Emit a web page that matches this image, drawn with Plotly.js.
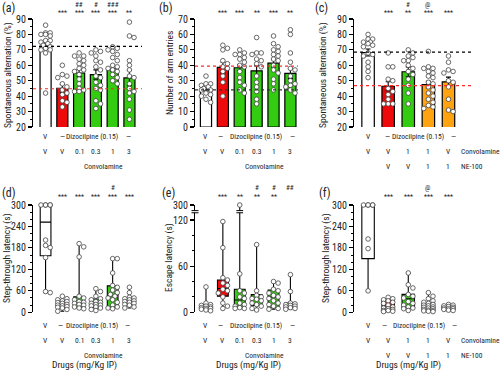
<!DOCTYPE html>
<html><head><meta charset="utf-8">
<script src="https://cdn.plot.ly/plotly-3.0.1.min.js"></script>
<style>body{margin:0;background:#fff}#chart{width:500px;height:375px}</style>
</head><body><div id="chart"></div>
<script>
// ---------------- DATA ----------------
// Panel (a) Spontaneous alternation (%) – groups: V/V, Dizo/V, Dizo+Conv 0.1, 0.3, 1, 3
const a_mean = [72.3, 45.0, 55.0, 54.0, 58.0, 51.8];
const a_sem  = [1.8, 2.6, 2.3, 3.0, 2.0, 5.0];
const a_pts = [
  [86,81,81,80,79,80,76,76,75,74,73,72,71,70,70,68,42],
  [60,54,53,52,48,46,44,42,41,37,36,33],
  [68,66,66,63,64,61,60,58,57,56,54,51,48,45,43,43,44],
  [70,69,68,66,62,63,59,57,53,52,49,47,45,44,37,35,32],
  [72,71,70,69,67,65,63,60,59,58,57,56,54,52,50,48],
  [88,79,78,63,60,57,53,52,48,45,43,42,38,31,25]
];
const a_refBlack = 72.3, a_refRed = 44.8;
// Panel (b) Number of arm entries
const b_mean = [24.0, 38.6, 38.4, 36.4, 41.4, 34.7];
const b_sem  = [1.2, 3.5, 2.0, 3.2, 2.5, 3.2];
const b_pts = [
  [33,28,28,27,26,25,24,24,22,21,20,18,16],
  [53,51,50,43,41,39,38,36,33,29,20],
  [50,48,47,47,45,44,42,40,39,36,32,29,27,24,22],
  [58,48,48,47,44,43,41,39,33,29,26,23,18,15],
  [59,54,52,50,49,47,46,44,43,40,37,35,31,28,24],
  [63,60,48,42,38,37,33,30,28,27,26,24,22]
];
const b_refBlack = 24.0, b_refRed = 39.5;
// Panel (c) Spontaneous alternation (%) – V/V, Dizo, Dizo+Conv1, Dizo+Conv1+NE1, Dizo+NE1
const c_mean = [68.3, 46.4, 55.8, 47.5, 49.3];
const c_sem  = [2.3, 2.9, 3.2, 2.2, 3.0];
const c_pts = [
  [80,77,77,75,75,74,73,72,68,67,66,62,59,56,52],
  [68,59,59,51,50,45,43,41,38,35,35,35],
  [70,68,65,66,63,63,60,58,56,54,51,47,42,35],
  [69,59,58,58,56,55,53,52,49,48,46,44,42,40,38,36,34,32,33],
  [66,62,57,56,55,50,49,46,38,31,30]
];
const c_refBlack = 68.5, c_refRed = 46.8;
// Panel (d) Step-through latency (s) – box stats (min, q1, median, q3, max)
const d_min = [55, 3, 10, 5, 10, 12];
const d_q1  = [158, 13, 14, 13, 14, 22];
const d_med = [252, 22, 25, 22, 46, 30];
const d_q3  = [300, 33, 43, 37, 74, 39];
const d_max = [300, 45, 192, 66, 150, 70];
const d_pts = [
  [300,300,300,300,300,202,187,181,153,58,55],
  [45,38,35,32,30,27,25,22,20,18,16,14,12,8,3],
  [192,183,155,45,40,35,30,28,25,22,20,15,12,10],
  [66,58,45,38,35,30,28,25,22,20,18,15,12,8,5],
  [150,150,110,75,70,62,55,50,45,40,35,28,20,15,12,10],
  [70,55,42,40,38,35,32,30,28,25,22,20,15,12]
];
// Panel (e) Escape latency (s) – broken axis (0–120 // 300)
const e_min = [2, 5, 5, 3, 4, 4];
const e_q1  = [4, 21, 6, 9, 6, 6];
const e_med = [6, 31, 16, 17, 20, 9];
const e_q3  = [10, 42, 30, 23, 29, 12];
const e_max = [33, 118, 300, 88, 40, 49];
const e_pts = [
  [33,12,10,9,8,7,6,5,5,4,3,2],
  [118,84,45,42,38,35,30,28,25,20,12,8,5],
  [300,50,28,25,20,18,12,10,8,6,5,5],
  [88,28,22,20,18,17,15,12,10,8,5,3],
  [40,38,30,28,25,22,20,18,15,12,10,8,5,4],
  [49,27,12,11,10,9,8,7,6,5,4]
];
// Panel (f) Step-through latency (s)
const f_min = [60, 2, 5, 2, 5];
const f_q1  = [150, 5, 12, 8, 8];
const f_med = [300, 18, 38, 15, 12];
const f_q3  = [300, 34, 50, 25, 18];
const f_max = [300, 42, 110, 55, 22];
const f_pts = [
  [300,300,300,300,300,205,178,60],
  [42,38,35,32,28,25,20,15,12,10,8,5,5,3,2],
  [110,77,68,50,45,40,30,25,20,15,12,10,5],
  [55,45,38,32,28,25,22,20,18,15,14,12,10,8,6,5,4,3,2],
  [22,20,18,16,14,12,10,10,8,6,5]
];
// Labels
const dizoRow = ['V', '—', 'Dizocilpine (0.15)', '—'];
const convDoses6 = ['V', 'V', '0.1', '0.3', '1', '3'];
const convDoses5 = ['V', 'V', '1', '1', 'V'];
const neDoses5 = ['V', 'V', '1', '1'];
const sig_a1 = ['', '***', '***', '***', '***', '**'], sig_a2 = ['', '', '##', '#', '###', ''];
const sig_b1 = ['', '***', '***', '**', '***', '**'],  sig_b2 = ['', '', '', '', '', ''];
const sig_c1 = ['', '***', '**', '***', '***'],        sig_c2 = ['', '', '#', '@', ''];
const sig_d1 = ['', '***', '***', '***', '***', '***'], sig_d2 = ['', '', '', '', '#', ''];
const sig_e1 = ['', '***', '**', '**', '**', ''],      sig_e2 = ['', '', '', '#', '#', '##'];
const sig_f1 = ['', '***', '***', '***', '***'],       sig_f2 = ['', '', '', '@', ''];

// ---------------- STYLE / GEOMETRY ----------------
const W = 500, H = 375;
const WHITE = '#ffffff', RED = '#ee0a0a', GREEN = '#33cc11', ORANGE = '#ffa311';
const col6 = [WHITE, RED, GREEN, GREEN, GREEN, GREEN];
const col5 = [WHITE, RED, GREEN, ORANGE, ORANGE];
const FONT = 'Liberation Sans Narrow, Roboto Condensed, DejaVu Sans Condensed, Open Sans, sans-serif';
const px = x => x / W, py = y => 1 - y / H;
const colL = [33, 142], colM = [195, 298], colR = [354, 472];
const rowT = [19, 127], rowB = [205, 312.3];
const xrL = [-0.75, 5.75], xrM = [-0.65, 5.45], xrR = [-0.7, 5.17];
const E_TOP = 139.5;                           // plotted position of 300 on the broken axis
function brk(v) { return v <= 125 ? v : E_TOP - (300 - v) * 0.35; }
const DIAM = 4.6;

function swarm(vals, ypu, xpu, maxHalf) {
  const placed = [], offs = new Array(vals.length);
  const order = vals.map((v, i) => i).sort((i, j) => vals[j] - vals[i]);
  const step = DIAM * 0.5, cands = [0];
  for (let k = 1; k * step <= maxHalf; k++) cands.push(k * step, -k * step);
  for (const i of order) {
    const y = vals[i] * ypu;
    let best = 0, bestScore = Infinity;
    for (const c of cands) {
      let s = 0;
      for (const p of placed) { const d = Math.hypot(c - p.x, y - p.y); if (d < DIAM) s += DIAM - d; }
      if (s < bestScore - 1e-9) { bestScore = s; best = c; }
      if (s === 0) break;
    }
    placed.push({x: best, y}); offs[i] = best / xpu;
  }
  return offs;
}

const traces = [];
function pointsTrace(groups, xa, ya, xd, xr, yd, yr, maxHalf, map) {
  const xpu = (xd[1] - xd[0]) / (xr[1] - xr[0]);
  const ypu = (yd[1] - yd[0]) / (yr[1] - yr[0]);
  const X = [], Y = [];
  groups.forEach((vals, i) => {
    const ys = vals.map(v => map ? map(v) : v);
    const off = swarm(ys, ypu, xpu, maxHalf);
    ys.forEach((y, k) => { X.push(i + off[k]); Y.push(y); });
  });
  traces.push({type: 'scatter', mode: 'markers', x: X, y: Y, xaxis: xa, yaxis: ya, cliponaxis: false,
    marker: {size: DIAM, color: '#fff', line: {color: '#444', width: 0.8}}, hoverinfo: 'skip'});
}
function barTrace(mean, sem, colors, xa, ya, width) {
  traces.push({type: 'bar', x: mean.map((m, i) => i), y: mean, xaxis: xa, yaxis: ya, width: width,
    marker: {color: colors, line: {color: '#000', width: 1.2}},
    error_y: {type: 'data', array: sem, visible: true, color: '#000', thickness: 1.1, width: 2.5},
    hoverinfo: 'skip'});
}
function boxTraces(mn, q1, md, q3, mx, colors, xa, ya, width, map) {
  const m = map || (v => v);
  mn.forEach((_, i) => traces.push({type: 'box', x: [i], q1: [m(q1[i])], median: [m(md[i])], q3: [m(q3[i])],
    lowerfence: [m(mn[i])], upperfence: [m(mx[i])], width: width, xaxis: xa, yaxis: ya,
    fillcolor: colors[i], line: {color: '#000', width: 1.1}, whiskerwidth: 0.35, boxpoints: false, hoverinfo: 'skip'}));
}

barTrace(a_mean, a_sem, col6, 'x', 'y', 0.66);
pointsTrace(a_pts, 'x', 'y', colL, xrL, rowT, [20, 90], 5.5);
barTrace(b_mean, b_sem, col6, 'x2', 'y2', 0.66);
pointsTrace(b_pts, 'x2', 'y2', colM, xrM, rowT, [0, 70], 5.5);
barTrace(c_mean, c_sem, col5, 'x3', 'y3', 0.62);
pointsTrace(c_pts, 'x3', 'y3', colR, xrR, rowT, [20, 90], 6.5);
boxTraces(d_min, d_q1, d_med, d_q3, d_max, col6, 'x4', 'y4', 0.64);
pointsTrace(d_pts, 'x4', 'y4', colL, xrL, rowB, [0, 300], 5.5);
boxTraces(e_min, e_q1, e_med, e_q3, e_max, col6, 'x5', 'y5', 0.64, brk);
pointsTrace(e_pts, 'x5', 'y5', colM, xrM, rowB, [0, E_TOP], 5.5, brk);
boxTraces(f_min, f_q1, f_med, f_q3, f_max, col5, 'x6', 'y6', 0.62);
pointsTrace(f_pts, 'x6', 'y6', colR, xrR, rowB, [0, 300], 6.5);

// ---------------- LAYOUT ----------------
function xAx(d, r, anchor) {
  return {domain: [px(d[0]), px(d[1])], range: r, anchor: anchor, showline: false, showticklabels: false,
    ticks: '', showgrid: false, zeroline: false, fixedrange: true};
}
function yAx(d, r, anchor, dtick, minor) {
  return {domain: [py(d[1]), py(d[0])], range: r, anchor: anchor, showline: true, linecolor: '#000', linewidth: 1.1,
    ticks: 'outside', ticklen: 4, tickwidth: 1.1, tickcolor: '#000', dtick: dtick, tick0: 0,
    minor: {dtick: minor, tick0: 0, ticks: 'outside', ticklen: 2, tickcolor: '#000', tickwidth: 1},
    showgrid: false, zeroline: false, tickfont: {size: 10, color: '#222'}, fixedrange: true};
}
const layout = {
  width: W, height: H, margin: {l: 0, r: 0, t: 0, b: 0}, showlegend: false,
  paper_bgcolor: '#fff', plot_bgcolor: 'rgba(0,0,0,0)', font: {family: FONT, color: '#222', size: 9},
  boxmode: 'overlay', barmode: 'overlay',
  xaxis: xAx(colL, xrL, 'y'),  yaxis: yAx(rowT, [20, 90], 'x', 10, 5),
  xaxis2: xAx(colM, xrM, 'y2'), yaxis2: yAx(rowT, [0, 70], 'x2', 10, 5),
  xaxis3: xAx(colR, xrR, 'y3'), yaxis3: yAx(rowT, [20, 90], 'x3', 10, 5),
  xaxis4: xAx(colL, xrL, 'y4'), yaxis4: yAx(rowB, [0, 300], 'x4', 60, 20),
  xaxis5: xAx(colM, xrM, 'y5'), yaxis5: Object.assign(yAx(rowB, [0, E_TOP], 'x5', 60, 20),
      {tickmode: 'array', tickvals: [0, 60, 120, E_TOP], ticktext: ['0', '60', '120', '300'],
       minor: {tickmode: 'array', tickvals: [20, 40, 80, 100], ticks: 'outside', ticklen: 2, tickcolor: '#000', tickwidth: 1}}),
  xaxis6: xAx(colR, xrR, 'y6'), yaxis6: yAx(rowB, [0, 300], 'x6', 60, 20),
  shapes: [], annotations: []
};
function refLine(xa, ya, y, color) {
  layout.shapes.push({type: 'line', xref: xa + ' domain', yref: ya, x0: 0, x1: 1, y0: y, y1: y, layer: 'above',
    line: {color: color, width: 1.2, dash: 'dot'}});
}
refLine('x', 'y', a_refBlack, '#000'); refLine('x', 'y', a_refRed, '#ff2a2a');
refLine('x2', 'y2', b_refBlack, '#333'); refLine('x2', 'y2', b_refRed, '#ff2a2a');
refLine('x3', 'y3', c_refBlack, '#000'); refLine('x3', 'y3', c_refRed, '#ff2a2a');
// axis break marks on (e)
function breakMark(xref, x0, x1) {
  layout.shapes.push({type: 'rect', xref: xref, yref: 'y5', x0: x0, x1: x1, y0: 129.4, y1: 132.2, layer: 'above',
    fillcolor: '#fff', line: {width: 0}});
  [129.4, 132.2].forEach(y => layout.shapes.push({type: 'line', xref: xref, yref: 'y5', x0: x0, x1: x1, y0: y, y1: y,
    layer: 'above', line: {color: '#000', width: 1}}));
}
breakMark('paper', px(191.5), px(198.5));
breakMark('x5', 1.8, 2.2);

function ann(o) { layout.annotations.push(Object.assign({showarrow: false, xanchor: 'center', yanchor: 'middle'}, o)); }
// panel letters
[['(a)', 0, 8], ['(b)', 157, 8], ['(c)', 313, 8], ['(d)', 0, 193], ['(e)', 160, 193], ['(f)', 317, 193]]
  .forEach(([t, x, y]) => ann({text: t, xref: 'paper', yref: 'paper', x: px(x), y: py(y), xanchor: 'left', font: {size: 12, color: '#222'}}));
// y-axis titles
[['Spontaneous alternation (%)', 8, 75], ['Number of arm entries', 169, 73], ['Spontaneous alternation (%)', 323, 75],
 ['Step-through latency (s)', 7, 258], ['Escape latency (s)', 169, 258], ['Step-through latency (s)', 326, 258]]
  .forEach(([t, x, y]) => ann({text: t, xref: 'paper', yref: 'paper', x: px(x), y: py(y), textangle: -90, font: {size: 9.5, color: '#222'}}));
// significance marks
const SF = {size: 7, color: '#222'};
function sig(xa, s1, s2, y1, y2) {
  s1.forEach((t, i) => t && ann({text: t, xref: xa, yref: 'paper', x: i, y: py(y1), font: SF}));
  s2.forEach((t, i) => t && ann({text: t, xref: xa, yref: 'paper', x: i, y: py(y2), font: SF}));
}
sig('x', sig_a1, sig_a2, 13, 4.5); sig('x2', sig_b1, sig_b2, 13, 4.5); sig('x3', sig_c1, sig_c2, 13, 4.5);
sig('x4', sig_d1, sig_d2, 197, 187.5); sig('x5', sig_e1, sig_e2, 197, 187.5); sig('x6', sig_f1, sig_f2, 197, 187.5);
// category labels
const LS = {size: 7.5, color: '#222'};
function labels6(xa, yTop, dizoX) {
  dizoRow.forEach((t, k) => ann({text: t, xref: xa, yref: 'paper', x: dizoX[k], y: py(yTop), font: LS}));
  convDoses6.forEach((t, i) => ann({text: t, xref: xa, yref: 'paper', x: i, y: py(yTop + 15.5), font: LS}));
  ann({text: 'Convolamine', xref: xa, yref: 'paper', x: 3.45, y: py(yTop + 30), font: LS});
}
function labels5(xa, yTop, dizoX) {
  dizoRow.forEach((t, k) => ann({text: t, xref: xa, yref: 'paper', x: dizoX[k], y: py(yTop), font: LS}));
  convDoses5.forEach((t, i) => ann({text: t, xref: xa, yref: 'paper', x: i, y: py(yTop + 15.5), font: LS}));
  ann({text: 'Convolamine', xref: xa, yref: 'paper', x: 4.5, xanchor: 'left', y: py(yTop + 15.5), font: LS});
  neDoses5.forEach((t, i) => ann({text: t, xref: xa, yref: 'paper', x: i + 1, y: py(yTop + 30), font: LS}));
  ann({text: 'NE-100', xref: xa, yref: 'paper', x: 4.5, xanchor: 'left', y: py(yTop + 30), font: LS});
}
labels6('x', 136, [0, 1, 2.75, 4.95]);
labels6('x2', 136, [0, 0.85, 2.95, 5.1]);
labels5('x3', 136, [0, 0.95, 2.5, 4.25]);
labels6('x4', 325, [0, 0.9, 2.75, 4.9]);
labels6('x5', 325, [0, 0.85, 2.95, 5.1]);
labels5('x6', 325, [0, 0.8, 2.55, 4.3]);
[['x4', 2.3], ['x5', 2.5], ['x6', 2.0]].forEach(([xa, x]) =>
  ann({text: 'Drugs (mg/Kg IP)', xref: xa, yref: 'paper', x: x, y: py(365), font: {size: 9.5, color: '#222'}}));

Plotly.newPlot('chart', traces, layout, {staticPlot: true, displayModeBar: false});
</script></body></html>
